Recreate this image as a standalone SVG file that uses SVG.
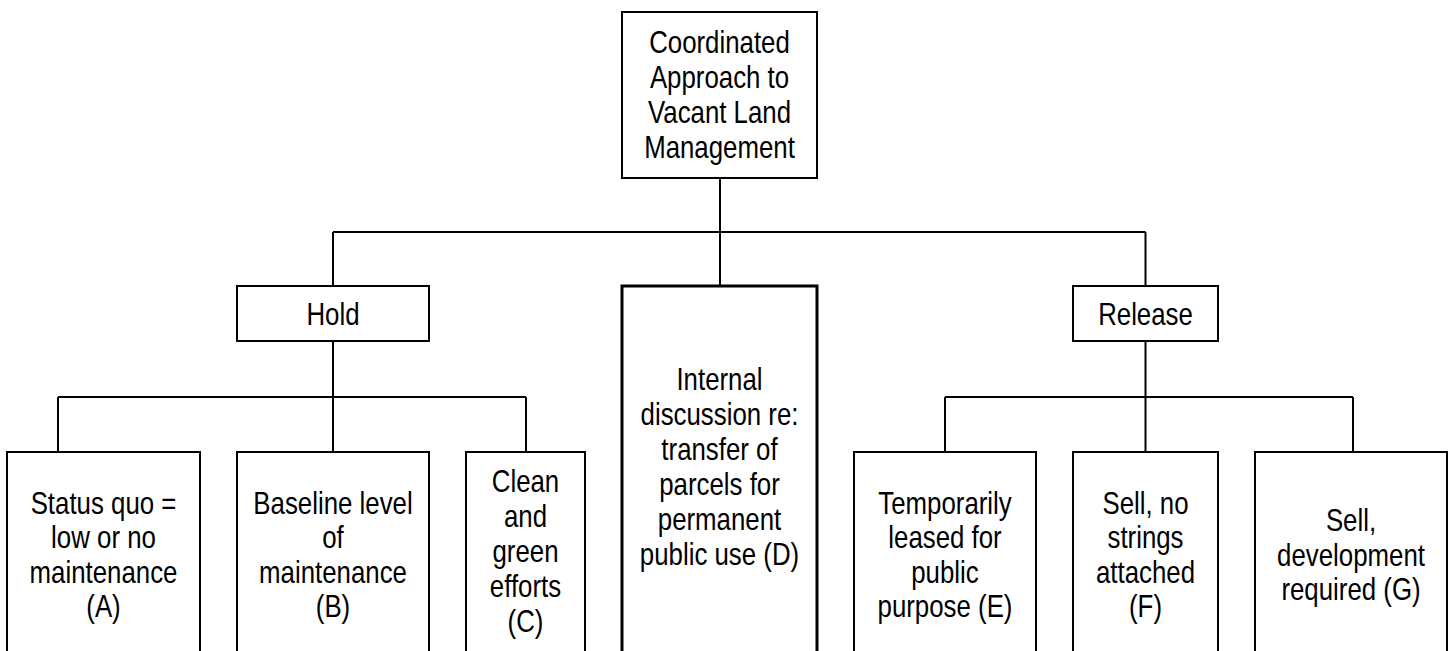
<svg xmlns="http://www.w3.org/2000/svg" width="1450" height="651" viewBox="0 0 1450 651">
<style>
.box{fill:#fff;stroke:#000;stroke-width:2}
.thick{stroke-width:3}
.ln{fill:none;stroke:#000;stroke-width:2}
text{font-family:"Liberation Sans",Arial,sans-serif;font-size:31.5px;fill:#000;text-anchor:middle}
</style>
<rect width="1450" height="651" fill="#fff"/>
<g id="connectors">
<path class="ln" d="M720,178 V232 M333,232 H1145.5 M333,232 V286 M720,232 V286 M1145.5,232 V286"/>
<path class="ln" d="M333,341 V397 M58,397 H526 M58,397 V452 M333,397 V452 M526,397 V452"/>
<path class="ln" d="M1145.5,341 V452 M945,397 H1353 M945,397 V452 M1353,397 V452"/>
</g>
<g id="root">
<rect class="box" x="622" y="12" width="195" height="166"/>
<g transform="translate(719.5 0) scale(0.82 1)"><text><tspan x="0" y="53">Coordinated</tspan><tspan x="0" y="88">Approach to</tspan><tspan x="0" y="123">Vacant Land</tspan><tspan x="0" y="158">Management</tspan></text></g>
</g>
<g id="hold">
<rect class="box" x="237" y="286" width="192" height="55"/>
<g transform="translate(333 0) scale(0.82 1)"><text x="0" y="325">Hold</text></g>
</g>
<g id="release">
<rect class="box" x="1073" y="286" width="145" height="55"/>
<g transform="translate(1145.5 0) scale(0.82 1)"><text x="0" y="325">Release</text></g>
</g>
<g id="nodeD">
<rect class="box thick" x="622" y="286" width="195" height="380"/>
<g transform="translate(719.5 0) scale(0.82 1)"><text><tspan x="0" y="390">Internal</tspan><tspan x="0" y="425">discussion re:</tspan><tspan x="0" y="460">transfer of</tspan><tspan x="0" y="495">parcels for</tspan><tspan x="0" y="530">permanent</tspan><tspan x="0" y="565">public use (D)</tspan></text></g>
</g>
<g id="nodeA">
<rect class="box" x="7" y="452" width="193" height="214"/>
<g transform="translate(103.5 0) scale(0.82 1)"><text><tspan x="0" y="514">Status quo =</tspan><tspan x="0" y="548.5">low or no</tspan><tspan x="0" y="583">maintenance</tspan><tspan x="0" y="617.5">(A)</tspan></text></g>
</g>
<g id="nodeB">
<rect class="box" x="237" y="452" width="192" height="214"/>
<g transform="translate(333 0) scale(0.82 1)"><text><tspan x="0" y="514">Baseline level</tspan><tspan x="0" y="548.5">of</tspan><tspan x="0" y="583">maintenance</tspan><tspan x="0" y="617.5">(B)</tspan></text></g>
</g>
<g id="nodeC">
<rect class="box" x="466" y="452" width="119" height="214"/>
<g transform="translate(525.5 0) scale(0.82 1)"><text><tspan x="0" y="492">Clean</tspan><tspan x="0" y="527">and</tspan><tspan x="0" y="562">green</tspan><tspan x="0" y="597">efforts</tspan><tspan x="0" y="632">(C)</tspan></text></g>
</g>
<g id="nodeE">
<rect class="box" x="854" y="452" width="182" height="214"/>
<g transform="translate(945 0) scale(0.82 1)"><text><tspan x="0" y="514">Temporarily</tspan><tspan x="0" y="548.5">leased for</tspan><tspan x="0" y="583">public</tspan><tspan x="0" y="617.5">purpose (E)</tspan></text></g>
</g>
<g id="nodeF">
<rect class="box" x="1073" y="452" width="145" height="214"/>
<g transform="translate(1145.5 0) scale(0.82 1)"><text><tspan x="0" y="514">Sell, no</tspan><tspan x="0" y="548.5">strings</tspan><tspan x="0" y="583">attached</tspan><tspan x="0" y="617.5">(F)</tspan></text></g>
</g>
<g id="nodeG">
<rect class="box" x="1255" y="452" width="192" height="214"/>
<g transform="translate(1351 0) scale(0.82 1)"><text><tspan x="0" y="531.5">Sell,</tspan><tspan x="0" y="566">development</tspan><tspan x="0" y="600.5">required (G)</tspan></text></g>
</g>
</svg>
